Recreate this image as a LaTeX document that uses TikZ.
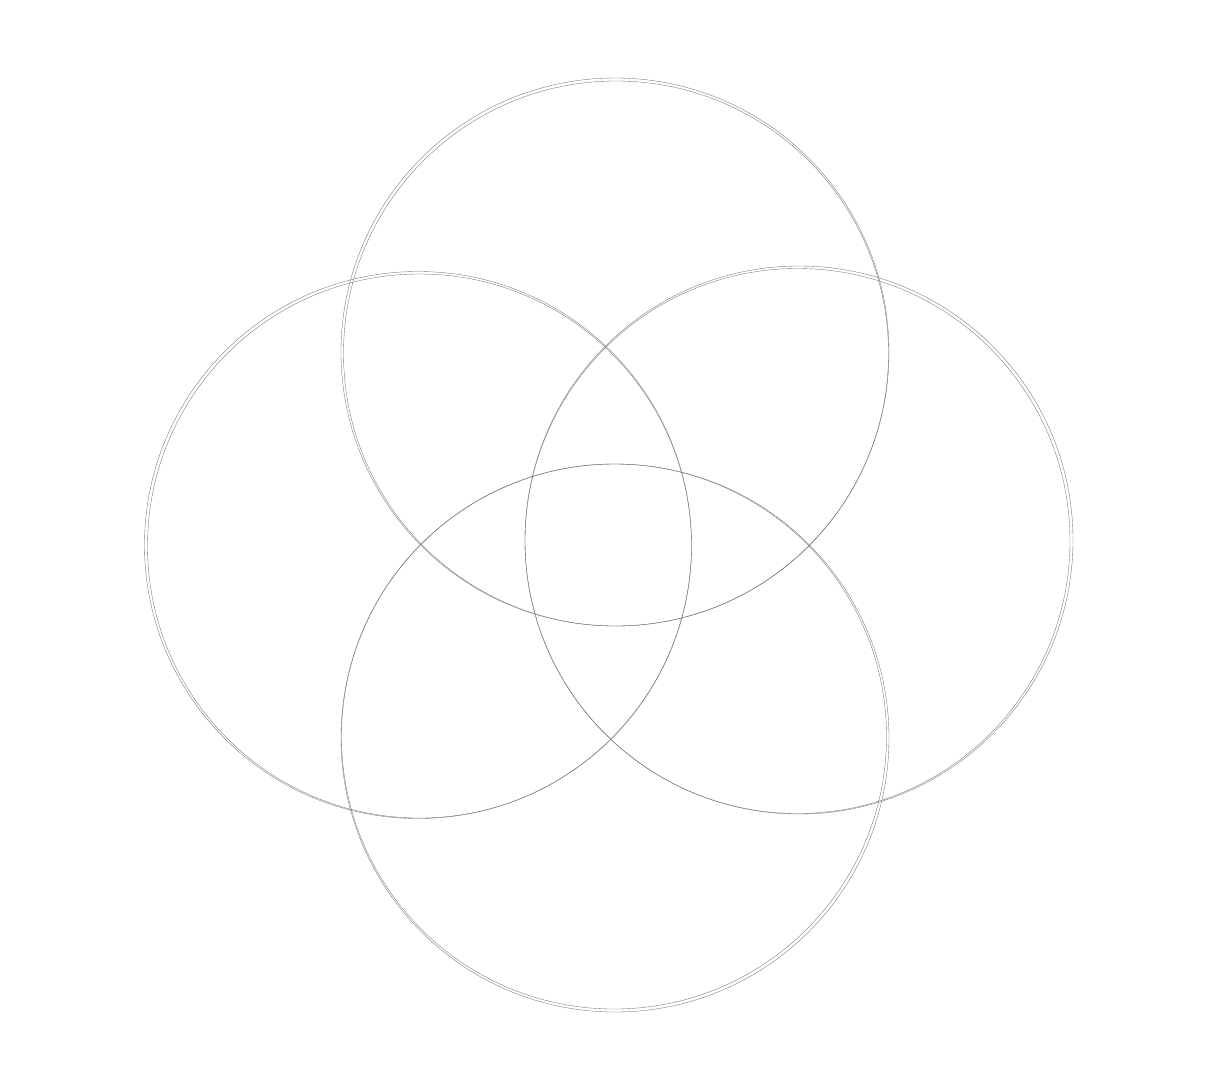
\documentclass[tikz,border=0pt]{standalone}
\begin{document}
\begin{tikzpicture}[x=1pt,y=-1pt,
  ring/.style={draw=black!55, line width=0.35pt}]
\useasboundingbox[fill=white] (0,0) rectangle (1210,1088);
% top
\draw[ring] (615,352) circle[radius=274];
\draw[ring] (616,353.5) circle[radius=272.5];
% left
\draw[ring] (418,545) circle[radius=273.5];
\draw[ring] (419.5,546) circle[radius=272];
% right
\draw[ring] (799,540) circle[radius=274];
\draw[ring] (797.5,541) circle[radius=272.5];
% bottom
\draw[ring] (615,738) circle[radius=274];
\draw[ring] (614,736.5) circle[radius=272.5];
\end{tikzpicture}
\end{document}
